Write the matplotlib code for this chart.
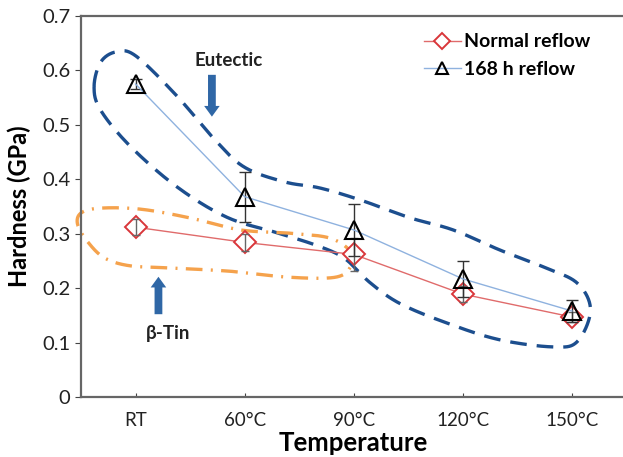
import matplotlib
matplotlib.use("Agg")
import matplotlib.pyplot as plt
import numpy as np

plt.rcParams["font.family"] = ["Lato", "DejaVu Sans"]

# --------- DATA ----------
temps = ["RT", "60°C", "90°C", "120°C", "150°C"]
normal = [0.312, 0.284, 0.262, 0.189, 0.147]
normal_err = [0.015, 0.015, 0.030, 0.015, 0.010]
aged = [0.575, 0.368, 0.307, 0.217, 0.158]
aged_err = [0.010, 0.046, 0.048, 0.033, 0.020]

# outline of the "Eutectic" region (category index, GPa)
eut_x = [-0.38, -0.32, -0.18, 0.0, 0.37, 0.73, 1.0, 1.37, 1.69, 2.06, 2.52,
         2.91, 3.34, 3.75, 4.05, 4.17, 4.05, 3.83, 3.34, 2.88, 2.43, 2.15,
         1.92, 1.68, 1.31, 0.84, 0.38, -0.05, -0.32]
eut_y = [0.57, 0.615, 0.634, 0.627, 0.555, 0.472, 0.422, 0.395, 0.384, 0.362,
         0.329, 0.307, 0.27, 0.238, 0.209, 0.16, 0.102, 0.092, 0.105, 0.134,
         0.171, 0.21, 0.254, 0.277, 0.301, 0.33, 0.386, 0.461, 0.527]

# outline of the "β-Tin" region
tin_x = [-0.53, -0.5, -0.32, 0.05, 0.5, 0.96, 1.41, 1.78, 1.97, 1.97, 1.83,
         1.41, 0.87, 0.32, -0.05, -0.28, -0.43]
tin_y = [0.316, 0.338, 0.347, 0.345, 0.329, 0.307, 0.301, 0.292, 0.267,
         0.239, 0.22, 0.22, 0.231, 0.237, 0.241, 0.255, 0.283]


def smooth_loop(xs, ys, n=30):
    # closed Catmull-Rom curve through the points
    p = np.column_stack([xs, ys])
    k = len(p)
    out = []
    for i in range(k):
        p0, p1, p2, p3 = p[i - 1], p[i], p[(i + 1) % k], p[(i + 2) % k]
        t = np.linspace(0, 1, n, endpoint=False)[:, None]
        out.append(0.5 * (2 * p1 + (-p0 + p2) * t
                          + (2 * p0 - 5 * p1 + 4 * p2 - p3) * t ** 2
                          + (-p0 + 3 * p1 - 3 * p2 + p3) * t ** 3))
    out = np.vstack(out + [p[:1]])
    return out[:, 0], out[:, 1]


# --------- FIGURE ----------
fig = plt.figure(figsize=(6.23, 4.57), dpi=100)
ax = fig.add_axes([0.130, 0.1313, 0.8756, 0.8337])
x = np.arange(len(temps))

ex, ey = smooth_loop(eut_x, eut_y)
ax.plot(ex, ey, color="#1c4e8e", lw=2.4, ls=(0, (5, 3)), zorder=1, clip_on=False)
tx, ty = smooth_loop(tin_x, tin_y)
ax.plot(tx, ty, color="#f5a24c", lw=2.4, ls=(0, (5, 2.5, 0.6, 2.5)), zorder=1,
        clip_on=False)

ax.plot(x, normal, color="#e06b6b", lw=1, marker="D", ms=11, mfc="white",
        mec="#d9363a", mew=1.4, label="Normal reflow", zorder=3)
ax.errorbar(x, normal, yerr=normal_err, fmt="none", ecolor="#666666",
            elinewidth=1, capsize=3, zorder=3.5)
ax.errorbar(x, aged, yerr=aged_err, fmt="none", ecolor="#333333",
            elinewidth=1, capsize=4, zorder=4)
ax.plot(x, aged, color="#8fb2df", lw=1, marker="^", ms=13, mfc="none",
        mec="black", mew=1.5, label="168 h reflow", zorder=4)

# arrows and labels
arrow_style = "simple,head_width=0.8,head_length=0.55,tail_width=0.4"
ax.annotate("", xy=(0.70, 0.510), xytext=(0.70, 0.597),
            arrowprops=dict(arrowstyle=arrow_style, mutation_scale=14,
                            color="#2f67a6", lw=0))
ax.text(0.85, 0.619, "Eutectic", fontsize=13.5, fontweight="bold", ha="center",
        va="center", color="#222222")
ax.annotate("", xy=(0.21, 0.226), xytext=(0.21, 0.147),
            arrowprops=dict(arrowstyle=arrow_style, mutation_scale=14,
                            color="#2f67a6", lw=0))
ax.text(0.295, 0.117, "β-Tin", fontsize=13.5, fontweight="bold", ha="center",
        va="center", color="#222222")

ax.set_xlim(-0.5, 4.5)
ax.set_ylim(0, 0.7)
ax.set_xticks(x)
ax.set_xticklabels(temps)
ax.set_yticks(np.arange(0, 0.71, 0.1))
ax.set_yticklabels(["0", "0.1", "0.2", "0.3", "0.4", "0.5", "0.6", "0.7"])
ax.tick_params(axis="x", direction="in", length=3, pad=11, labelsize=13.5,
               colors="#444444", labelcolor="#222222")
ax.tick_params(axis="y", direction="out", length=4, labelsize=14.5,
               colors="#444444", labelcolor="#222222")
for s in ["left", "bottom", "top"]:
    ax.spines[s].set_color("#666666")
    ax.spines[s].set_linewidth(1.6)
ax.spines["right"].set_visible(False)

ax.set_xlabel("Temperature", fontsize=18.5, fontweight="bold", labelpad=1)
ax.set_ylabel("Hardness (GPa)", fontsize=17, fontweight="bold", labelpad=8)

leg = ax.legend(loc="upper right", bbox_to_anchor=(0.965, 1.0), frameon=False,
                prop={"size": 14, "weight": "bold"}, handlelength=1.9,
                handletextpad=0.15, labelspacing=0.55)
for h in leg.legend_handles:
    h.set_markersize(8)

fig.savefig("out.png", dpi=100)
